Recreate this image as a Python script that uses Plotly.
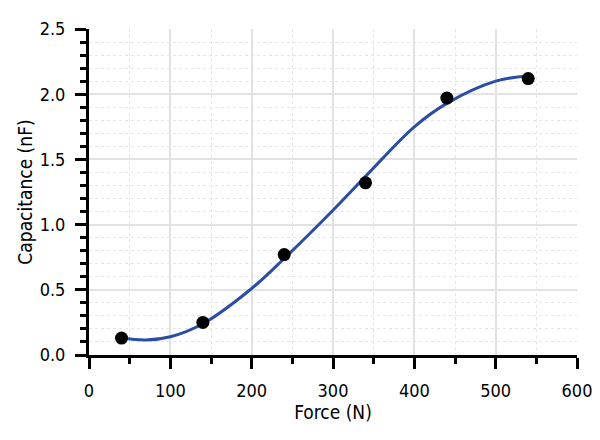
import plotly.graph_objects as go

# Mesures (points noirs)
force = [40, 140, 240, 340, 440, 540]
capacitance = [0.13, 0.25, 0.77, 1.32, 1.97, 2.12]

# Courbe d'ajustement
fit_force = [40, 70, 100, 140, 200, 240, 300, 340, 400, 440, 500, 540]
fit_capacitance = [0.13, 0.115, 0.14, 0.24, 0.51, 0.74, 1.11, 1.37, 1.75, 1.93, 2.10, 2.14]

x_ticks = [0, 100, 200, 300, 400, 500, 600]
y_ticks = [0.0, 0.5, 1.0, 1.5, 2.0, 2.5]

FONT = "DejaVu Sans Condensed, DejaVu Sans, sans-serif"

fig = go.Figure()

fig.add_trace(go.Scatter(
    x=fit_force, y=fit_capacitance, mode="lines",
    line=dict(color="#2a4ea3", width=3, shape="spline", smoothing=1.0),
    hoverinfo="skip", showlegend=False,
))

fig.add_trace(go.Scatter(
    x=force, y=capacitance, mode="markers",
    marker=dict(color="black", size=13),
    showlegend=False,
))

axis_common = dict(
    showline=True, linecolor="black", linewidth=3,
    ticks="outside", ticklen=11, tickwidth=3, tickcolor="black",
    showgrid=True, gridcolor="#e2e2e2", gridwidth=1.5,
    zeroline=False, automargin=False,
    tickfont=dict(family=FONT, size=18, color="black"),
)

fig.update_xaxes(
    range=[0, 600], tickvals=x_ticks, ticktext=[str(v) for v in x_ticks],
    ticklabelstandoff=6,
    title=dict(text="Force (N)", font=dict(family=FONT, size=19, color="black"), standoff=2),
    minor=dict(dtick=50, ticks="outside", ticklen=6, tickwidth=2.5, tickcolor="black",
               showgrid=True, gridcolor="#e6e6e6", griddash="dot", gridwidth=1),
    **axis_common,
)
fig.update_yaxes(
    range=[0, 2.5], tickvals=y_ticks, ticktext=[f"{v:.1f}" for v in y_ticks],
    ticklabelstandoff=6,
    title=dict(text="Capacitance (nF)", font=dict(family=FONT, size=19, color="black"), standoff=3),
    minor=dict(dtick=0.1, ticks="outside", ticklen=6, tickwidth=2.5, tickcolor="black",
               showgrid=True, gridcolor="#e6e6e6", griddash="dot", gridwidth=1),
    **axis_common,
)

# la page ajoute ~8 px de marge au corps : on compense ici
fig.update_layout(
    width=600, height=440,
    margin=dict(l=81, r=31, t=21, b=93),
    paper_bgcolor="white", plot_bgcolor="white",
    font=dict(family=FONT, size=18, color="black"),
)

fig.write_html("out.html")
